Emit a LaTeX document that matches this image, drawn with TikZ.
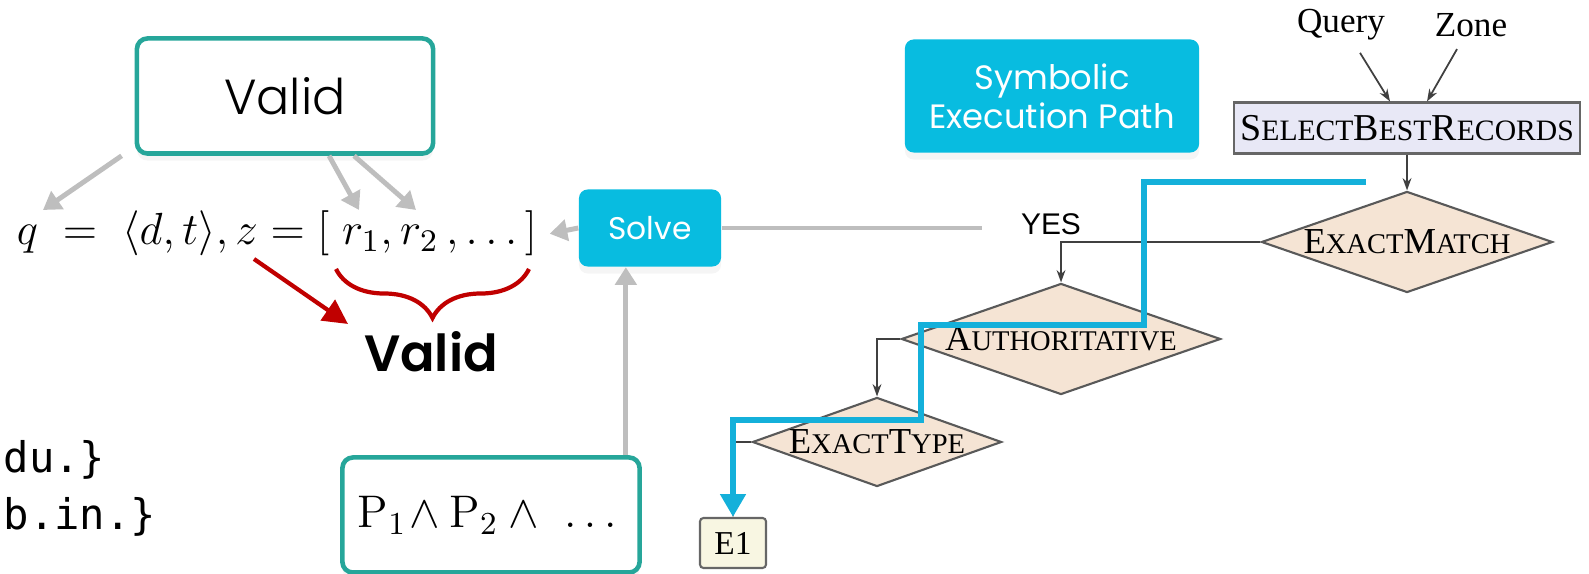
\RequirePackage{fix-cm}
\documentclass[tikz,border=0pt]{standalone}
\usepackage{amsmath}
\usepackage{fontspec}
\usepackage{tikz}
\usetikzlibrary{arrows.meta, shapes.geometric, decorations.pathreplacing, shadows, positioning}
\newfontfamily\mont{Poppins}
\newfontfamily\montlight{Poppins Light}
\newfontfamily\montsemi{Poppins SemiBold}
\newfontfamily\tms{Liberation Serif}
\newfontfamily\arl{Liberation Sans}
\newfontfamily\mono{DejaVu Sans Mono}
\definecolor{tealline}{RGB}{38,166,154}
\definecolor{solvecyan}{RGB}{8,188,224}
\definecolor{pathblue}{RGB}{20,176,218}
\definecolor{arrowgray}{RGB}{190,190,190}
\definecolor{darkred}{RGB}{192,0,0}
\definecolor{peach}{RGB}{245,228,212}
\definecolor{lavender}{RGB}{232,232,246}
\definecolor{cream}{RGB}{248,246,226}
\newcommand{\smc}[1]{\scalebox{0.78}{#1}}

\begin{document}
\begin{tikzpicture}[x=0.01cm, y=-0.01cm,
  tealbox/.style={draw=tealline, line width=1.3pt, rounded corners=3pt, fill=white,
    minimum width=2.96cm, minimum height=1.15cm,
    drop shadow={opacity=0.08, shadow xshift=0pt, shadow yshift=-2pt}},
  cyanbox/.style={fill=solvecyan, rounded corners=2.5pt, text=white, align=center,
    font=\mont\fontsize{8.9}{10.8}\selectfont,
    drop shadow={opacity=0.08, shadow xshift=0pt, shadow yshift=-2pt}},
  grayarrow/.style={draw=arrowgray, line width=1.4pt, -{Triangle[length=5pt,width=6pt]}},
  redarrow/.style={draw=darkred, line width=1.2pt, -{Triangle[length=7pt,width=7pt]}},
  decision/.style={diamond, draw=black!65, line width=0.6pt, fill=peach, inner sep=-6pt,
    aspect=3, font=\tms\fontsize{10.4}{11}\selectfont},
  flowarrow/.style={draw=black!75, line width=0.5pt, -{Stealth[length=3.5pt,width=2.5pt]}},
  bluepath/.style={draw=pathblue, line width=1.7pt, -{Triangle[length=6.5pt,width=7pt]}},
  ]
\useasboundingbox (0,0) rectangle (1589,574);

\node[tealbox, font=\montlight\fontsize{14}{16}\selectfont] (validbox) at (285,96) {Valid};
\node[anchor=base, font=\fontsize{12.8}{15}\selectfont] (formula) at (277,245)
  {$q \;=\; \langle d,t\rangle, z = [\;r_1, r_2\,, \dots\,]$};
\coordinate (qtip) at (43,210);
\coordinate (rone) at (359,210);
\coordinate (rtwo) at (416,210);
\draw[grayarrow] ([xshift=-0.13cm]validbox.south west) -- (qtip);
\draw[grayarrow] ([xshift=0.44cm]validbox.south) -- (rone);
\draw[grayarrow] ([xshift=0.69cm]validbox.south) -- (rtwo);

\coordinate (braceleft) at (336,269);
\coordinate (braceright) at (529,269);
\draw[darkred, line width=1.2pt, decorate, decoration={brace, mirror, amplitude=0.49cm}]
  (braceleft) -- (braceright);
\node[font=\montsemi\fontsize{14.5}{16}\selectfont] (validbold) at (431,352) {Valid};
\coordinate (zfoot) at (254,259);
\coordinate (redtip) at (348,324);
\draw[redarrow] (zfoot) -- (redtip);

\node[anchor=base west, inner sep=0pt, font=\mono\fontsize{12}{14}\selectfont] (emailone) at (3,473) {du.\}};
\node[anchor=base west, inner sep=0pt, font=\mono\fontsize{12}{14}\selectfont] (emailtwo) at (3,530) {b.in.\}};

\node[tealbox, minimum width=2.97cm, font=\fontsize{13}{15}\selectfont] (pbox) at (491,515)
  {$\mathrm{P}_1\!\wedge \mathrm{P}_2 \wedge\ \dots$};
\node[cyanbox, minimum width=1.42cm, minimum height=0.77cm] (solve) at (650,228) {Solve};
\node[cyanbox, minimum width=2.94cm, minimum height=1.13cm, font=\mont\fontsize{9.6}{11}\selectfont] (sympath) at (1052,96) {Symbolic\\Execution Path};
\draw[grayarrow] (solve.west) -- (formula.east);
\draw[grayarrow] ([xshift=-0.16cm]pbox.north east) -- ([xshift=-0.16cm]pbox.north east |- solve.south);
\coordinate (yesend) at (982,228);
\draw[draw=arrowgray, line width=1.4pt] (solve.east) -- (yesend);

\node[font=\tms\fontsize{10}{11}\selectfont] (query) at (1341,25) {Query};
\node[font=\tms\fontsize{10}{11}\selectfont] (zone) at (1471,25) {Zone};
\node[draw=black!60, line width=0.6pt, fill=lavender, minimum width=3.45cm, minimum height=0.51cm,
  inner sep=1pt, font=\tms\fontsize{10.8}{11}\selectfont] (select) at (1407,128)
  {S\smc{ELECT}B\smc{EST}R\smc{ECORDS}};
\draw[flowarrow] ([xshift=0.19cm]query.south) -- ([xshift=-0.17cm]select.north);
\draw[flowarrow] ([xshift=-0.14cm]zone.south) -- ([xshift=0.2cm]select.north);
\node[decision, minimum width=2.91cm, minimum height=1.01cm] (exactmatch) at (1407,242) {E\smc{XACT}M\smc{ATCH}};
\draw[flowarrow] (select.south) -- (exactmatch.north);
\node[font=\arl\fontsize{8.5}{9}\selectfont] (yes) at (1051,224) {YES};
\node[decision, minimum width=3.19cm, minimum height=1.11cm] (authoritative) at (1061,339) {A\smc{UTHORITATIVE}};
\draw[flowarrow] (exactmatch.west) -| (authoritative.north);
\node[decision, minimum width=2.49cm, minimum height=0.89cm] (exacttype) at (877,442) {E\smc{XACT}T\smc{YPE}};
\draw[flowarrow] (authoritative.west) -| (exacttype.north);
\node[draw=black!60, line width=0.6pt, fill=cream, rounded corners=1pt, minimum width=0.66cm,
  minimum height=0.5cm, inner sep=1pt, font=\tms\fontsize{9.5}{10}\selectfont] (eone) at (733,543) {E1};
\draw[flowarrow] (exacttype.west) -| (eone.north);

\coordinate (pathstart) at (1366,182);
\draw[bluepath] (pathstart) -- (1144,182) -- (1144,325) -- (921,325) -- (921,420) -- (733,420) -- (eone.north);
\end{tikzpicture}
\end{document}
